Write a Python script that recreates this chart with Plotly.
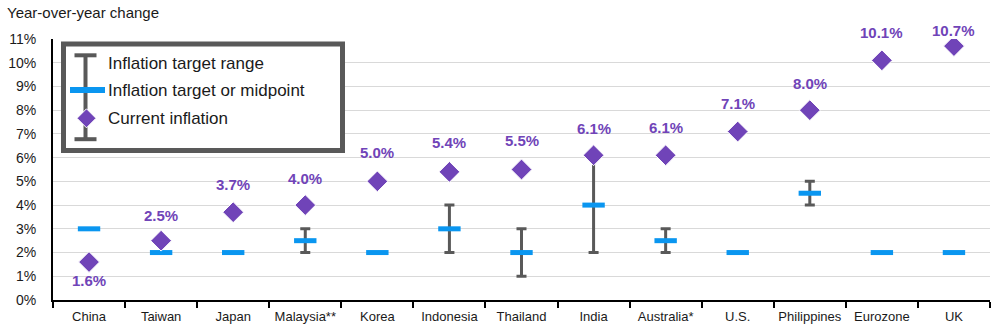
import plotly.graph_objects as go

# ---- data ----
countries = ["China", "Taiwan", "Japan", "Malaysia**", "Korea", "Indonesia", "Thailand",
             "India", "Australia*", "U.S.", "Philippines", "Eurozone", "UK"]
current_inflation = [1.6, 2.5, 3.7, 4.0, 5.0, 5.4, 5.5, 6.1, 6.1, 7.1, 8.0, 10.1, 10.7]
target_midpoint = [3.0, 2.0, 2.0, 2.5, 2.0, 3.0, 2.0, 4.0, 2.5, 2.0, 4.5, 2.0, 2.0]
range_low = [None, None, None, 2.0, None, 2.0, 1.0, 2.0, 2.0, None, 4.0, None, None]
range_high = [None, None, None, 3.0, None, 4.0, 3.0, 6.0, 3.0, None, 5.0, None, None]
label_texts = ["1.6%", "2.5%", "3.7%", "4.0%", "5.0%", "5.4%", "5.5%", "6.1%", "6.1%",
               "7.1%", "8.0%", "10.1%", "10.7%"]
label_shift = [-18, 25, 28, 27, 29, 29, 29, 27, 28, 28, 27, 28, 16]
y_ticks = list(range(0, 12))
y_tick_labels = ["0%", "1%", "2%", "3%", "4%", "5%", "6%", "7%", "8%", "9%", "10%", "11%"]
legend_items = ["Inflation target range", "Inflation target or midpoint", "Current inflation"]
title_text = "Year-over-year change"

PURPLE = "#7044B8"
BLUE = "#0A96F0"
GRAY = "#595959"
FONT = "Liberation Sans, Arial, sans-serif"
TXT = "#1a1a1a"

W, H = 1007, 330
ML, MR, MT, MB = 53, 17, 39, 30
PW, PH = W - ML - MR, H - MT - MB


def X(px):
    return (px - ML) / PW


def Y(py):
    return (H - MB - py) / PH


# error bar trace (range)
err_plus = [(h - m) if h is not None else None for h, m in zip(range_high, target_midpoint)]
err_minus = [(m - l) if l is not None else None for l, m in zip(range_low, target_midpoint)]
mid_for_err = [m if l is not None else None for l, m in zip(range_low, target_midpoint)]

fig = go.Figure()
fig.add_trace(go.Scatter(
    x=countries, y=mid_for_err, mode="markers",
    marker=dict(size=1, opacity=0),
    error_y=dict(type="data", symmetric=False, array=err_plus, arrayminus=err_minus,
                 color=GRAY, thickness=3, width=5),
    showlegend=False, hoverinfo="skip"))
fig.add_trace(go.Scatter(
    x=countries, y=target_midpoint, mode="markers",
    marker=dict(symbol="line-ew", size=16, line=dict(color=BLUE, width=5)),
    showlegend=False))
fig.add_trace(go.Scatter(
    x=countries, y=current_inflation, mode="markers",
    marker=dict(symbol="diamond", size=16, color=PURPLE, line=dict(color="white", width=1)),
    showlegend=False))

annotations = []
for c, v, t, s in zip(countries, current_inflation, label_texts, label_shift):
    annotations.append(dict(x=c, y=v, xref="x", yref="y", text=t, showarrow=False,
                            yshift=s, font=dict(family=FONT, size=15, color=PURPLE, weight="bold")))

annotations.append(dict(x=X(5), y=Y(12.5), xref="paper", yref="paper", text=title_text,
                        showarrow=False, xanchor="left", yanchor="middle",
                        font=dict(family=FONT, size=15, color=TXT)))

for txt, py in zip(legend_items, [63, 90, 118]):
    annotations.append(dict(x=X(106), y=Y(py), xref="paper", yref="paper", text=txt,
                            showarrow=False, xanchor="left", yanchor="middle",
                            font=dict(family=FONT, size=17, color=TXT)))

shapes = []
# legend box
shapes.append(dict(type="rect", xref="paper", yref="paper", x0=X(63.5), x1=X(342.5),
                   y0=Y(44), y1=Y(150.5), line=dict(color=GRAY, width=5), fillcolor="white",
                   layer="above"))
# legend range symbol
cx = 85.5
shapes.append(dict(type="line", xref="paper", yref="paper", x0=X(cx), x1=X(cx),
                   y0=Y(55.3), y1=Y(139.2), line=dict(color=GRAY, width=4), layer="above"))
for cy in (55.3, 139.2):
    shapes.append(dict(type="line", xref="paper", yref="paper", x0=X(74.5), x1=X(96.5),
                       y0=Y(cy), y1=Y(cy), line=dict(color=GRAY, width=4), layer="above"))
shapes.append(dict(type="line", xref="paper", yref="paper", x0=X(70), x1=X(105),
                   y0=Y(90), y1=Y(90), line=dict(color=BLUE, width=6), layer="above"))
dx, dy, r = 86.5, 118.3, 9.5
path = "M {},{} L {},{} L {},{} L {},{} Z".format(
    X(dx), Y(dy - r), X(dx + r), Y(dy), X(dx), Y(dy + r), X(dx - r), Y(dy))
shapes.append(dict(type="path", xref="paper", yref="paper", path=path,
                   fillcolor=PURPLE, line=dict(color="white", width=1), layer="above"))

fig.update_layout(
    width=W, height=H,
    margin=dict(l=ML, r=MR, t=MT, b=MB, pad=0, autoexpand=False),
    paper_bgcolor="white", plot_bgcolor="white",
    font=dict(family=FONT, color=TXT),
    showlegend=False,
    annotations=annotations,
    shapes=shapes,
    xaxis=dict(type="category", categoryorder="array", categoryarray=countries,
               range=[-0.5, len(countries) - 0.5],
               showline=True, linecolor="black", linewidth=2,
               ticks="outside", tickson="boundaries", ticklen=6, tickwidth=2, tickcolor="black",
               showgrid=False, tickangle=0, automargin=False, ticklabelstandoff=3,
               tickfont=dict(family=FONT, size=13, color=TXT)),
    yaxis=dict(range=[0, 11], tickmode="array", tickvals=y_ticks, ticktext=y_tick_labels,
               showline=True, linecolor="black", linewidth=2,
               showgrid=True, gridcolor="#D9D9D9", gridwidth=1, zeroline=False,
               ticks="", ticklabelstandoff=12, automargin=False,
               tickfont=dict(family=FONT, size=14, color=TXT)),
)

fig.write_html("out.html")
